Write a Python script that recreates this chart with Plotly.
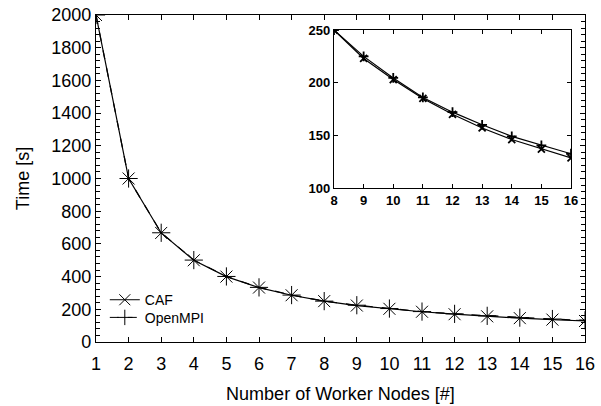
import plotly.graph_objects as go

nodes = list(range(1, 17))
caf = [2000, 1000, 667, 500, 400, 333, 286, 250, 223, 203, 185, 170, 157, 146, 137, 128.5]
openmpi = [2000, 1000, 668, 501, 401, 334, 287, 250, 225, 204.5, 186, 172, 160, 149, 140.5, 132.5]
inset_yticks = [100, 150, 200, 250]
inset_xticks = list(range(8, 17))

FONT = "Liberation Sans, Arial, sans-serif"

fig = go.Figure()

# main plot
fig.add_trace(go.Scatter(x=nodes, y=caf, name="CAF", mode="lines+markers", showlegend=False,
                         line=dict(color="black", width=1.2),
                         marker=dict(symbol="x-thin-open", size=12, color="black",
                                     line=dict(color="black", width=1)),
                         xaxis="x", yaxis="y"))
fig.add_trace(go.Scatter(x=nodes, y=openmpi, name="OpenMPI", mode="lines+markers", showlegend=False,
                         line=dict(color="black", width=1.2, dash="dash"),
                         marker=dict(symbol="cross-thin-open", size=13, color="black",
                                     line=dict(color="black", width=1)),
                         xaxis="x", yaxis="y"))

# legend-only entries (smaller symbols)
fig.add_trace(go.Scatter(x=[None], y=[None], name="CAF", mode="lines+markers", legend="legend",
                         line=dict(color="black", width=1),
                         marker=dict(symbol="x-thin-open", size=11, color="black",
                                     line=dict(color="black", width=1))))
fig.add_trace(go.Scatter(x=[None], y=[None], name="OpenMPI", mode="lines+markers", legend="legend2",
                         line=dict(color="black", width=1, dash="dash"),
                         marker=dict(symbol="cross-thin-open", size=11, color="black",
                                     line=dict(color="black", width=1))))

# inset
ins_x = [n for n in nodes if n >= 8]
ins_caf = [v for n, v in zip(nodes, caf) if n >= 8]
ins_mpi = [v for n, v in zip(nodes, openmpi) if n >= 8]
fig.add_trace(go.Scatter(x=ins_x, y=ins_caf, mode="lines+markers", showlegend=False,
                         line=dict(color="black", width=1.2),
                         marker=dict(symbol="x-thin-open", size=7, color="black",
                                     line=dict(color="black", width=1.8)),
                         xaxis="x2", yaxis="y2"))
fig.add_trace(go.Scatter(x=ins_x, y=ins_mpi, mode="lines+markers", showlegend=False,
                         line=dict(color="black", width=1.2),
                         marker=dict(symbol="cross-thin-open", size=7, color="black",
                                     line=dict(color="black", width=1.8)),
                         xaxis="x2", yaxis="y2"))

main_axis = dict(showgrid=False, zeroline=False, showline=True, linecolor="black",
                 linewidth=1.2, mirror="ticks", ticks="inside", tickcolor="black",
                 ticklen=5, tickwidth=1, automargin=False,
                 tickfont=dict(family=FONT, size=18, color="black"))
inset_axis = dict(showgrid=False, zeroline=False, showline=True, linecolor="black", linewidth=1.2,
                  mirror="ticks", ticks="inside", ticklen=4, tickcolor="black", automargin=False,
                  tickfont=dict(family=FONT, size=13, color="black"))

leg = dict(x=0.018, xanchor="left", yanchor="middle", bgcolor="rgba(0,0,0,0)",
           font=dict(family=FONT, size=14, color="black"), itemwidth=30)

fig.update_layout(
    width=601, height=406,
    margin=dict(l=96, r=16, t=15, b=64),
    plot_bgcolor="white", paper_bgcolor="white",
    font=dict(family=FONT, color="black"),
    xaxis=dict(main_axis, range=[1, 16], tickvals=nodes, domain=[0, 1], ticklabelstandoff=5,
               title=dict(text="Number of Worker Nodes [#]", font=dict(size=18), standoff=14)),
    yaxis=dict(main_axis, range=[0, 2000], dtick=200, tick0=0,
               minor=dict(ticks="inside", ticklen=4, tickwidth=1, tickcolor="black",
                          dtick=40, tick0=0, showgrid=False),
               title=dict(text="Time [s]", font=dict(size=18), standoff=16)),
    xaxis2=dict(inset_axis, range=[8, 16], tickvals=inset_xticks,
                ticktext=[f"<b>{v}</b>" for v in inset_xticks],
                domain=[0.4867, 0.9714], anchor="y2"),
    yaxis2=dict(inset_axis, range=[100, 250], tickvals=inset_yticks,
                ticktext=[f"<b>{v}</b>" for v in inset_yticks],
                domain=[0.471, 0.954], anchor="x2"),
    legend=dict(leg, y=0.128),
    legend2=dict(leg, y=0.074),
    showlegend=True,
)

fig.write_html("out.html")
